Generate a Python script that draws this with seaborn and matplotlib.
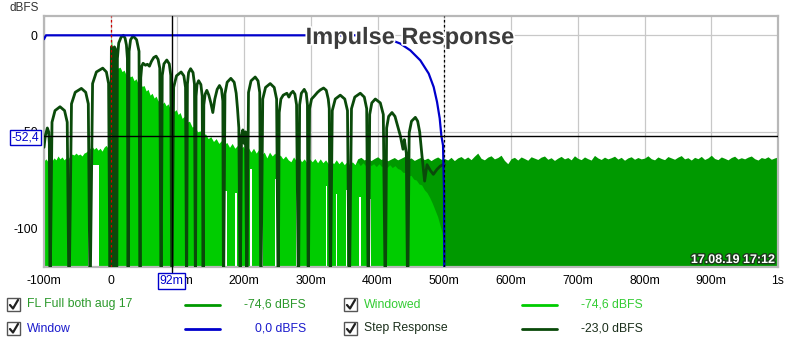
import matplotlib
matplotlib.use("Agg")
import numpy as np
import pandas as pd
import seaborn as sns
import matplotlib.pyplot as plt
import matplotlib.patheffects as pe
from matplotlib.patches import Rectangle
from matplotlib.lines import Line2D

# ---------------- data (time in ms, level in dBFS) ----------------
step_t = [-100, -98, -95, -93, -92, -91,
          -88, -83.5, -76, -69.2, -65.2, -62.5,
          -58.8, -53.2, -44, -37.5, -33.6, -31,
          -27.2, -21.5, -12, -6.5, -3.2, -1,
          1, 2.5, 4, 5.5, 7, 9,
          10, 12, 15.5, 19, 21.5, 23.5, 25, 26,
          27.5, 29.75, 33.5, 38.75, 42.4, 44,
          45, 46.5, 48.5, 52, 55, 58, 61, 64.5, 68, 71, 73.5, 75.5,
          77.2, 79.75, 84, 87.75, 90, 91.5,
          94.3, 98.5, 105.5, 109.6, 112.1, 113.7,
          114.9, 116.7, 119.7, 123.35, 125.5, 127,
          127.9, 129.35, 131.7, 135.1, 137.1, 138.5,
          139.5, 141.5, 144, 147, 150, 153, 156, 159.5, 163, 166, 168, 169,
          171.2, 174.5, 180, 185, 188, 190, 192, 194,
          196, 198, 200, 202, 204,
          206.5, 210.25, 216.5, 220.75, 223.3, 225,
          227.8, 232, 239, 245, 248.6, 251,
          252.5, 255, 258.5, 264, 267, 270, 273, 276, 278.5, 281.4,
          283.1, 285.7, 290, 293, 294.8, 296,
          298, 301, 305, 310, 314, 319, 323, 326, 327.5, 329,
          332, 336.5, 344, 350.75, 354.8, 357.5,
          360.8, 365.75, 374, 380, 383.6, 386,
          388.1, 391.25, 396.5, 404, 408.5, 411.5,
          413.5, 416.5, 421.5, 426, 430, 434, 438, 440, 443, 445,
          447.3, 450.75, 456.5, 460, 463, 466.5, 470.4, 474, 479, 483.5, 489, 494, 498, 500]
step_db = [-58, -52, -48, -50, -56, -140,
           -45, -39, -37, -39, -45, -140,
           -35.5, -29.5, -27.5, -29.5, -35.5, -140,
           -25, -19, -17, -19, -25, -140,
           -6, -8, -140, -6, -7, -140,
           -12, -4, -1, 0, -1.5, -5, -12, -140,
           -8.3, -2.3, -0.3, -2.3, -8.3, -140,
           -22, -16, -14.5, -15.5, -15, -16, -13.5, -11.5, -10.8, -12.5, -17, -140,
           -20.8, -14.8, -12.8, -14.8, -20.8, -140,
           -27, -21, -19, -21, -27, -140,
           -25.3, -19.3, -17.3, -19.3, -25.3, -140,
           -31.5, -25.5, -23.5, -25.5, -31.5, -140,
           -36, -30.5, -28.5, -31, -35, -40, -33, -28, -26, -28, -34, -140,
           -30.3, -24.3, -22.3, -24.3, -30, -38, -48, -140,
           -52, -49, -56, -50, -140,
           -29.6, -23.6, -21.6, -23.6, -29.6, -140,
           -33, -27, -25, -27, -33, -140,
           -40, -33, -31, -30, -32, -30, -29, -30.5, -36, -140,
           -36, -30, -28, -30, -36, -140,
           -38, -33, -31.5, -29.5, -28.3, -27.3, -28.5, -33, -38, -140,
           -39, -33, -31, -33, -39, -140,
           -38, -32, -30, -32, -38, -140,
           -41, -35, -33, -35, -41, -140,
           -48, -42, -40, -42, -47, -52, -59, -54, -61, -140,
           -50.5, -44.5, -42.5, -44.5, -50, -62.5, -75.5, -67, -70, -72, -69.4, -67.7, -67, -67]

window_t = [-100, -97, 380, 395, 410, 421.5, 434, 449, 464, 476.5, 484, 489, 493, 495.5, 498, 499.5, 500]
window_db = [-2, 0, 0, -0.6, -1.6, -2.6, -4.3, -7.8, -13, -19.8, -26.8, -34.5, -43, -52, -57, -80, -140]

windowed_t = [-100, -97, -94, -91, -88, -85, -82, -79, -76, -73, -70, -67, -64, -61, -58,
              -55, -52, -49, -46, -43, -40, -37, -34, -31, -28, -25, -22, -19, -16, -13,
              -10, -7, -4, -1.5, 0, 0.7, 1.5, 3, 5, 8, 11, 14, 17, 20, 23, 26, 29, 32, 35,
              38, 41, 44, 47, 50, 53, 56, 59, 62, 65, 68, 71, 74, 77, 80, 83, 86, 89, 92,
              95, 98, 101, 104, 107, 110, 114, 118, 122, 126, 130, 134, 138, 142, 146, 150,
              154, 158, 162, 166, 170, 174, 178, 182, 186, 190, 194, 198, 202, 206, 210,
              214, 218, 222, 226, 230, 234, 238, 242, 246, 250, 254, 258, 262, 266, 270,
              274, 278, 282, 286, 290, 294, 298, 302, 306, 310, 314, 318, 322, 326, 330,
              334, 338, 342, 346, 350, 354, 358, 362, 366, 370, 374, 378, 382, 386, 390,
              394, 398, 402, 406, 410, 414, 418, 422, 426, 430, 434, 438, 442, 446, 450,
              454, 458, 462, 466, 470, 474, 478, 482, 486, 490, 494, 496.5, 498.5, 500]
windowed_db = [-65, -64, -65.5, -64.5, -65, -63.5, -64.5, -62.5, -64, -63, -64.5, -63.5, -64, -62.5, -61.5,
               -62, -61, -62, -61.5, -62.5, -61, -60.5, -59.5, -58.5, -57.5, -59, -58, -59.5, -58.5, -60,
               -58, -57, -58.5, -56.5, -20, 0, -3, -10, -14, -16, -17, -16.5, -18.8, -18, -20.5, -19.5, -21.5, -21, -23.5,
               -22.5, -25, -24, -26.5, -26, -28.8, -28, -31, -30, -32.5, -31.5, -34, -33, -35.5, -34.5, -36.5, -35.5, -38, -37,
               -39.5, -38.5, -41, -40, -43, -42, -45, -44.5, -47.5, -47, -50, -49.5, -52, -51, -53.5, -52.5,
               -55, -53.5, -56, -54.5, -56.5, -55.5, -58, -56, -58.5, -57, -59, -57.5, -59.5, -58, -60.5,
               -58.5, -61, -59, -62, -60.5, -63.5, -60.5, -62.5, -61, -63.5, -62, -64, -62.5, -64.5, -65.5,
               -63, -65, -63, -65.5, -64, -66, -64, -65.5, -63.8, -66, -64, -66, -64.5, -66.5, -65,
               -66.5, -64.5, -66.5, -65, -67, -65.5, -67, -65.5, -67, -65.5, -67.5, -66, -67.5, -66, -67.5,
               -66.5, -68, -66.5, -68, -67, -68.5, -67, -68.5, -67.5, -69, -69.5, -71, -71, -73, -72.5,
               -74.5, -75, -77, -77.5, -80, -81.5, -84, -87, -90.5, -94, -99, -102, -110, -140]

# unwindowed response: level before 365 ms lies under the windowed trace
full_t = [-100, 365] + list(np.arange(370, 1001, 5))
full_db = [-68, -68,
           -64.0, -63.2, -64.6, -63.5, -64.9, -63.8, -62.9, -64.3, -63.6, -65.0,
           -64.1, -63.3, -64.5, -63.7, -62.8, -64.2, -63.5, -64.8, -63.9, -63.1,
           -64.4, -63.6, -64.9, -63.8, -63.0, -64.2,
           -63.8, -64.6, -63.2, -64.9, -63.5, -62.8, -64.1, -63.0, -64.4, -62.6,
           -61.0, -63.7, -64.5, -63.1, -62.4, -64.0, -63.3, -62.1, -64.8, -66.5,
           -63.9, -63.2, -64.6, -63.0, -63.8, -64.7, -62.9, -63.6, -64.3, -63.1,
           -62.5, -64.2, -63.4, -64.8, -63.6, -62.7, -64.0, -63.3, -64.5, -62.4,
           -63.7, -64.4, -63.0, -63.9, -64.6, -62.2, -63.5, -64.3, -63.1, -64.0,
           -63.4, -62.6, -64.1, -63.2, -64.7, -63.5, -62.9, -64.2, -63.3, -64.0,
           -63.6, -62.4, -63.9, -64.5, -63.0, -63.8, -64.4, -62.8, -63.5, -64.2,
           -63.1, -62.3, -64.0, -63.4, -64.6, -63.2, -63.9, -62.7, -64.3, -63.5,
           -62.1, -63.8, -64.4, -63.0, -63.7, -64.5, -63.3, -62.6, -64.1, -63.4,
           -64.0, -63.1, -62.5, -63.9, -64.6, -63.3, -63.8, -62.9, -64.2, -63.5,
           -63.0]

# stretches where the response stays clear of the floor
gap_start = [-34, -29, 171.5, 186.5, 209, 224.5, 246.5, 277, 296.5, 322, 337.5, 352.5, 372.5, 388.5]
gap_end = [-31.5, -17, 174, 188.5, 211, 227.5, 248.5, 279.5, 298.5, 324, 339, 354.5, 374.5, 390.5]
gap_top = [-84, -67, -80.7, -81.5, -69.4, -74.6, -74.6, -80.7, -80, -78, -82, -80, -84, -85]

x_ticks = [-100, 0, 100, 200, 300, 400, 500, 600, 700, 800, 900, 1000]
x_tick_labels = ["-100m", "0", "100m", "200m", "300m", "400m", "500m",
                 "600m", "700m", "800m", "900m", "1s"]
y_ticks = [-100, -50, 0]
y_tick_labels = ["-100", "-50", "0"]

cursor_t = 92
cursor_db = -52.4
window_end = 500

legend_names = ["FL Full both aug 17", "Windowed", "Window", "Step Response"]
legend_values = ["-74,6 dBFS", "-74,6 dBFS", "0,0 dBFS", "-23,0 dBFS"]
timestamp = "17.08.19 17:12"

# ---------------- style ----------------
C_FULL = "#009900"
C_WIN_IR = "#00cc00"
C_WINDOW = "#0000cc"
C_STEP = "#0a4a0a"

sns.set_style("white")
plt.rcParams["font.family"] = ["Liberation Sans", "DejaVu Sans"]

W, H = 800, 343
fig = plt.figure(figsize=(W / 100, H / 100), dpi=100)
fig.patch.set_facecolor("white")
L, R, T, B = 44, 778, 16, 267
ax = fig.add_axes([L / W, 1 - B / H, (R - L) / W, (B - T) / H])


def fx(px):
    return px / W


def fy(py):
    return 1 - py / H


ax.set_xlim(-100, 1000)
ax.set_ylim(-120, 10)
ax.set_xticks(x_ticks)
ax.set_xticklabels(x_tick_labels)
ax.set_yticks(y_ticks)
ax.set_yticklabels(y_tick_labels)
ax.tick_params(length=0, labelsize=8.8, colors="black")
ax.tick_params(axis="x", pad=5.5)
ax.tick_params(axis="y", pad=4.5)
ax.grid(True, color="#c8c8c8", lw=0.9)
ax.set_axisbelow(True)
for s in ax.spines.values():
    s.set_color("#b8b8b8")
    s.set_linewidth(1.6)

# impulse response fills
ax.fill_between(full_t, -130, full_db, color=C_FULL, lw=0, zorder=2)
ax.fill_between(windowed_t, -130, windowed_db, color=C_WIN_IR, lw=0, zorder=2.2)
for s0, s1, top in zip(gap_start, gap_end, gap_top):
    ax.fill_between([s0, s1], -130, top, color="white", lw=0, zorder=2.4)

# step response and window
step_df = pd.DataFrame({"t": step_t, "db": step_db})
win_df = pd.DataFrame({"t": window_t, "db": window_db})
sns.lineplot(data=step_df, x="t", y="db", ax=ax, color=C_STEP, lw=2.0,
             estimator=None, sort=False, zorder=3)
sns.lineplot(data=win_df, x="t", y="db", ax=ax, color=C_WINDOW, lw=1.6,
             estimator=None, sort=False, zorder=3.2)
ax.set_xlabel("")
ax.set_ylabel("")

# markers and cursors
ax.axvline(0, color="#cc0000", lw=0.9, ls=(0, (2, 2)), zorder=3.4)
ax.axvline(window_end, color="black", lw=0.9, ls=(0, (2, 2)), zorder=3.4)
ax.axvline(cursor_t, ymin=-0.02, ymax=1, color="black", lw=1.0, zorder=3.5, clip_on=False)
ax.axhline(cursor_db, color="black", lw=1.0, zorder=3.5)

# cursor readouts
fig.text(fx(25.5), fy(137.5), "-52,4", color=C_WINDOW, fontsize=8.8, ha="center", va="center",
         bbox=dict(boxstyle="square,pad=0.15", fc="white", ec=C_WINDOW, lw=1), zorder=10)
fig.text(fx(171.5), fy(281), "92m", color=C_WINDOW, fontsize=8.8, ha="center", va="center",
         bbox=dict(boxstyle="square,pad=0.15", fc="white", ec=C_WINDOW, lw=1), zorder=10)

# titles
fig.text(fx(10), fy(8), "dBFS", fontsize=8.5, color="#333333", va="center", ha="left")
fig.text(fx(410), fy(44), "Impulse Response", fontsize=17, fontweight="bold",
         color="#3c3c3c", ha="center", va="baseline", zorder=10,
         path_effects=[pe.withStroke(linewidth=2.5, foreground="white")])
fig.text(fx(775), fy(263), timestamp, fontsize=9, fontweight="bold", color="white",
         ha="right", va="baseline", zorder=10,
         path_effects=[pe.withStroke(linewidth=2, foreground="#1c3a1c")])

# legend block
legend_colors_line = [C_FULL, C_WIN_IR, C_WINDOW, C_STEP]
legend_colors_text = ["#2b992b", "#33cc33", "#1a1acc", "#1a2e1a"]
cols = [dict(box=7, label=27, line=(185, 220), value=306),
        dict(box=344, label=364, line=(522, 557), value=643)]
rows = [304.5, 328.5]
for i, (name, val) in enumerate(zip(legend_names, legend_values)):
    col = cols[i % 2]
    yc = rows[i // 2]
    bx = col["box"]
    fig.patches.append(Rectangle((fx(bx), fy(yc + 6.5)), 13 / W, 13 / H,
                                 transform=fig.transFigure, fc="white",
                                 ec="#555555", lw=1.0))
    fig.lines.append(Line2D([fx(bx + 3), fx(bx + 6), fx(bx + 11)],
                            [fy(yc + 0.5), fy(yc + 4), fy(yc - 4.5)],
                            transform=fig.transFigure, color="#202020", lw=1.6))
    fig.text(fx(col["label"]), fy(yc), name, color=legend_colors_text[i],
             fontsize=8.8, ha="left", va="center")
    fig.lines.append(Line2D([fx(col["line"][0]), fx(col["line"][1])], [fy(yc), fy(yc)],
                            transform=fig.transFigure, color=legend_colors_line[i], lw=2.0))
    fig.text(fx(col["value"]), fy(yc), val, color=legend_colors_text[i],
             fontsize=8.8, ha="right", va="center")

fig.savefig("out.png", dpi=100, facecolor="white")
